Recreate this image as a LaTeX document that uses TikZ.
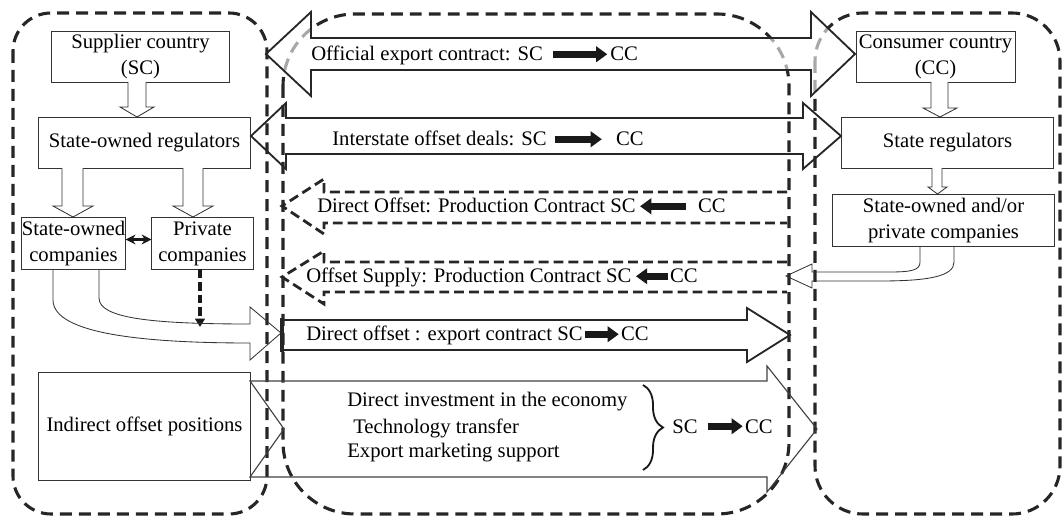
\documentclass[tikz,border=0pt]{standalone}
\usepackage{fontspec}
\setmainfont{Liberation Serif}
\usetikzlibrary{arrows.meta,positioning,calc,decorations.pathreplacing}

\begin{document}
\begin{tikzpicture}[
    x=0.025cm, y=-0.025cm,
    font=\fontsize{14.7pt}{18.5pt}\selectfont,
    region/.style={draw=black!85, line width=2.2pt, dash pattern=on 8.5pt off 5pt},
    box/.style={draw=black!80, line width=0.7pt, align=center, inner sep=0pt},
    hollow/.style={draw=black!80, line width=0.6pt, fill=white, line join=miter},
    curvarr/.style={draw=black!80, line width=0.6pt, line join=miter},
    bigarr/.style={draw=black!85, line width=1.3pt, line join=miter},
    dasharr/.style={draw=black!85, line width=2pt, dash pattern=on 7pt off 3.6pt},
    thinarr/.style={draw=black!75, line width=0.8pt, line join=miter},
    lbl/.style={anchor=base west, inner sep=0pt},
    txtarr/.style={-{Triangle[length=8pt,width=11pt]}, line width=5.3pt, black!90}
  ]
  \useasboundingbox (0,0) rectangle (1064,517);

  % three areas
  \draw[region, rounded corners=0.95cm] (13,13) rectangle (267,514);
  \draw[region, rounded corners=1.8cm] (283,14) rectangle (789,514);
  \draw[region, rounded corners=1.2cm] (815,13) rectangle (1060,514);

  % official contract arrow lies over the areas
  \draw[bigarr, fill=white, fill opacity=0.6] (266,54) -- (311,12) -- (311,38) -- (811,38) -- (811,12) -- (855,54) -- (811,96) -- (811,70) -- (311,70) -- (311,96) -- cycle;

  % supplier side
  \node[box, minimum width=4.425cm, minimum height=1.25cm] (sc) at (140.5,57) {Supplier country\\(SC)};
  \node[box, minimum width=5.275cm, minimum height=1.25cm] (sor) at (144.5,143) {State-owned regulators};
  \node[box, minimum width=2.525cm, minimum height=1.275cm] (stcomp) at (73.5,243.5) {State-owned\\companies};
  \node[box, minimum width=2.525cm, minimum height=1.275cm] (privcomp) at (202.5,243.5) {Private\\companies};
  \node[box, minimum width=5.275cm, minimum height=2.675cm] (indirect) at (144.5,426.5) {Indirect offset positions};

  \draw[hollow] (128,82) -- (128,107) -- (120,107) -- (137,117) -- (154,107) -- (146,107) -- (146,82);
  \draw[hollow] (62,168) -- (62,206) -- (53,206) -- (73,217) -- (93,206) -- (83,206) -- (83,168);
  \draw[hollow] (183,168) -- (183,206) -- (173,206) -- (193,217) -- (213,206) -- (203,206) -- (203,168);
  \draw[{Stealth[length=7pt,width=7pt]}-{Stealth[length=7pt,width=7pt]}, line width=1.8pt, black!90] ([yshift=1mm]stcomp.east) -- ([yshift=1mm]privcomp.west);
  \coordinate (privend) at (200,327);
  \draw[-{Triangle[length=6pt,width=7pt]}, line width=2.2pt, dash pattern=on 6pt off 3pt, black!90] (privend |- privcomp.south) -- (privend);
  \draw[curvarr] (53,269) -- (53,300) .. controls (53,335) and (150,343) .. (250,343) -- (250,360) -- (281,333) -- (250,307) -- (250,324) .. controls (150,324) and (99,318) .. (99,298) -- (99,269);

  % consumer side
  \node[box, minimum width=3.975cm, minimum height=1.25cm] (cc) at (935.5,57) {Consumer country\\(CC)};
  \node[box, minimum width=5.275cm, minimum height=1.25cm] (sr) at (947.5,143) {State regulators};
  \node[box, minimum width=5.525cm, minimum height=1.275cm] (sopc) at (943.5,220.5) {State-owned and/or\\private companies};

  \draw[hollow] (931,82) -- (931,108) -- (923,108) -- (940,117) -- (957,108) -- (948,108) -- (948,82);
  \draw[hollow] (932,168) -- (932,187) -- (928,187) -- (937.5,194) -- (947,187) -- (942,187) -- (942,168);
  \draw[curvarr] (954,246) -- (954,262) .. controls (954,276) and (930,281) .. (880,281) -- (812,281) -- (812,288) -- (786,276) -- (812,264) -- (812,272) -- (890,272) .. controls (912,272) and (920,270) .. (920,262) -- (920,246);

  % offset flows
  \draw[bigarr] (251,136) -- (286,103) -- (286,118) -- (803,118) -- (803,103) -- (841,136) -- (803,169) -- (803,154) -- (286,154) -- (286,169) -- cycle;
  \draw[dasharr] (787,192) -- (324,192) -- (324,179) -- (282,206) -- (324,234) -- (324,223) -- (787,223);
  \draw[dasharr] (787,262) -- (324,262) -- (324,251) -- (282,277) -- (324,304) -- (324,292) -- (787,292);
  \draw[bigarr] (282,320) -- (747,320) -- (747,308) -- (790,335) -- (747,362) -- (747,350) -- (282,350);
  \draw[line width=2.4pt, black!85] (282,318) -- (282,352);
  \draw[thinarr] (250,381) -- (767,381) -- (767,366) -- (817,429) -- (767,492) -- (767,477) -- (250,477) -- (284,429) -- cycle;

  % labels on the flows
  \node[lbl] (offtxt) at (311,61) {Official export contract: SC};
  \node[lbl, right=1.675cm of offtxt.base east, anchor=base west] (offcc) {CC};
  \draw[txtarr] ([xshift=7pt]offtxt.east |- offcc.west) -- ([xshift=-2pt]offcc.west);

  \node[lbl] (inttxt) at (332,146) {Interstate offset deals: SC};
  \node[lbl, right=1.725cm of inttxt.base east, anchor=base west] (intcc) {CC};
  \draw[txtarr] ([xshift=5.5pt]inttxt.east |- intcc.west) -- ([xshift=-10pt]intcc.west);

  \node[lbl] (doftxt) at (317,213) {Direct Offset: Production Contract SC};
  \node[lbl, right=1.55cm of doftxt.base east, anchor=base west] (dofcc) {CC};
  \draw[txtarr] ([xshift=-8.5pt]dofcc.west) -- ([xshift=3pt]doftxt.east |- dofcc.west);

  \node[lbl] (suptxt) at (306,283) {Offset Supply: Production Contract SC};
  \node[lbl, right=0.95cm of suptxt.base east, anchor=base west] (supcc) {CC};
  \draw[txtarr] ([xshift=-1pt]supcc.west) -- ([xshift=3pt]suptxt.east |- supcc.west);

  \node[lbl] (exptxt) at (306,341) {Direct offset : export contract SC};
  \node[lbl, right=0.95cm of exptxt.base east, anchor=base west] (expcc) {CC};
  \draw[txtarr] ([xshift=1.5pt]exptxt.east |- expcc.west) -- ([xshift=-1.5pt]expcc.west);

  \node[lbl] (inv1) at (347,406) {Direct investment in the economy};
  \node[lbl] (inv2) at (353,433) {Technology transfer};
  \node[lbl] (inv3) at (347,457) {Export marketing support};
  \draw[decorate, decoration={brace, amplitude=0.5cm}, line width=1.3pt, black!90] (643,385) -- (643,470);
  \node[lbl] (invsc) at (672,433) {SC};
  \node[lbl, right=1.175cm of invsc.base east, anchor=base west] (invcc) {CC};
  \draw[txtarr] ([xshift=7pt]invsc.east |- invcc.west) -- ([xshift=-1.5pt]invcc.west);
\end{tikzpicture}
\end{document}
